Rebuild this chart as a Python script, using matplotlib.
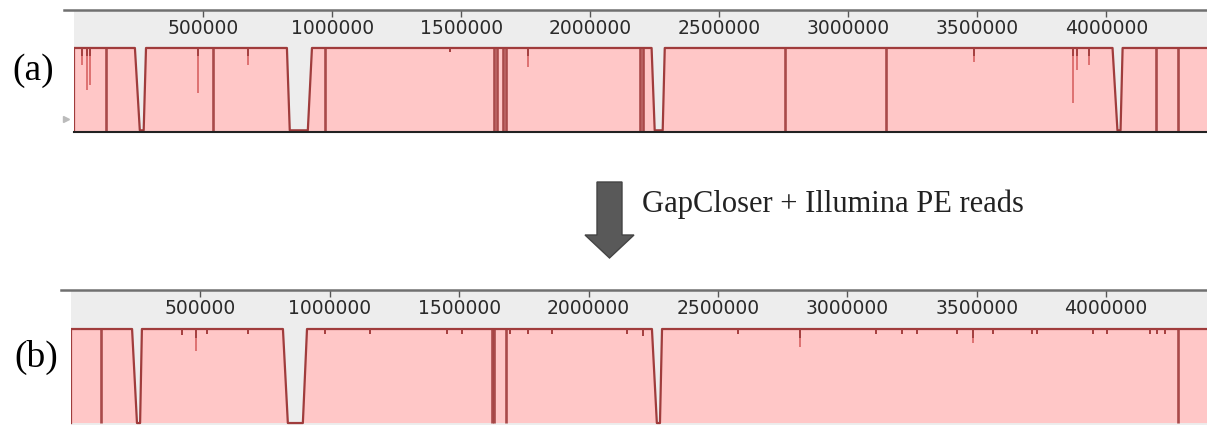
"""
Coverage profile of the draft assembly before (a) and after (b) gap closing
"""

from matplotlib import pyplot as plt
from matplotlib.patches import FancyArrow

# Axis ticks (genome position, bp)
ticks = [500000, 1000000, 1500000, 2000000, 2500000, 3000000, 3500000, 4000000]
tick_labels = [str(t) for t in ticks]
genome_end = 4390000

# Panel (a): outline of the profile (position, relative coverage)
a_pos = [0, 0, 236000, 255000, 270000, 279000, 825000, 836000, 906000, 922000,
         2238000, 2250000, 2281000, 2289000, 4024000, 4043000, 4055000, 4063000,
         genome_end]
a_cov = [0, 1, 1, 0.02, 0.02, 1, 1, 0.02, 0.02, 1,
         1, 0.02, 0.02, 1, 1, 0.02, 0.02, 1,
         1]
# Panel (a): narrow drops (position, lowest coverage)
a_drop_pos = [31000, 50000, 62000, 124000, 480000, 538000, 674000, 972000,
              1456000, 1627000, 1638000, 1661000, 1673000, 1758000, 2192000,
              2204000, 2754000, 3145000, 3486000, 3869000, 3888000, 3931000,
              4194000, 4276000]
a_drop_cov = [0.8, 0.5, 0.56, 0.0, 0.46, 0.0, 0.8, 0.0,
              0.95, 0.0, 0.0, 0.0, 0.0, 0.77, 0.0,
              0.0, 0.0, 0.0, 0.83, 0.35, 0.74, 0.8,
              0.0, 0.0]

# Panel (b)
b_pos = [0, 0, 236000, 255000, 267000, 274000, 819000, 838000, 896000, 912000,
         2245000, 2264000, 2276000, 2284000, genome_end]
b_cov = [0, 1, 1, 0.0, 0.0, 1, 1, 0.0, 0.0, 1,
         1, 0.0, 0.0, 1, 1]
b_drop_pos = [116000, 429000, 483000, 525000, 684000, 981000, 1155000, 1453000,
              1511000, 1627000, 1634000, 1681000, 1696000, 1766000, 1859000,
              2148000, 2210000, 2577000, 2817000, 3110000, 3211000, 3269000,
              3423000, 3485000, 3563000, 3713000, 3733000, 3949000, 4003000,
              4169000, 4196000, 4227000, 4277000]
b_drop_cov = [0.0, 0.94, 0.77, 0.95, 0.95, 0.95, 0.95, 0.95,
              0.95, 0.0, 0.0, 0.0, 0.95, 0.95, 0.95,
              0.95, 0.93, 0.95, 0.81, 0.95, 0.95, 0.95,
              0.95, 0.85, 0.95, 0.95, 0.95, 0.95, 0.95,
              0.95, 0.95, 0.95, 0.0]

W, H = 1207, 425
fill_color = '#ffc7c7'
line_color = '#a03c3c'
band_color = '#ededed'

fig = plt.figure(figsize=(W / 100, H / 100), dpi=100)


def px_axes(left, top, right, bottom):
    return fig.add_axes([left / W, 1 - bottom / H, (right - left) / W, (bottom - top) / H])


def draw_profile(ax, pos, cov, drop_pos, drop_cov, ylim):
    ax.set_facecolor(band_color)
    ax.fill_between(pos, cov, 0, facecolor=fill_color, linewidth=0)
    ax.plot(pos, cov, color=line_color, linewidth=1.6)
    for p, c in zip(drop_pos, drop_cov):
        if c < 0.1:
            ax.vlines(p, c, 1, color=line_color, linewidth=1.9, alpha=0.9)
        else:
            ax.vlines(p, c, 1, color='#d45a5a', linewidth=1.1)
            ax.vlines(p, max(c, 0.9), 1, color=line_color, linewidth=1.3)
    ax.set_xlim(0, genome_end)
    ax.set_ylim(*ylim)
    ax.set_yticks([])
    ax.set_xticks(ticks, labels=tick_labels)
    ax.tick_params(axis='x', top=True, bottom=False, labeltop=True, labelbottom=False,
                   direction='in', length=5, width=1, color='#555555', pad=-20.5,
                   labelsize=13.5, labelcolor='#2a2a2a')
    for side in ['left', 'right', 'top']:
        ax.spines[side].set_visible(False)
    # top frame line, a little longer than the plot
    ax.plot([-0.009, 1], [1, 1], transform=ax.transAxes, clip_on=False,
            color='#707070', linewidth=1.8)


# (a) before gap closing
ax_a = px_axes(74, 10, W, 132)
draw_profile(ax_a, a_pos, a_cov, a_drop_pos, a_drop_cov, (0, 1.452))
ax_a.spines['bottom'].set_color('#222222')
ax_a.spines['bottom'].set_linewidth(1.5)
ax_a.plot([-0.007], [0.11], marker='>', markersize=4, color='#bbbbbb',
          transform=ax_a.transAxes, clip_on=False)

# (b) after gap closing
ax_b = px_axes(71, 290, W, H)
draw_profile(ax_b, b_pos, b_cov, b_drop_pos, b_drop_cov, (-0.021, 1.415))
ax_b.spines['bottom'].set_visible(False)

# Overlay in pixel units for labels and arrow
ov = fig.add_axes([0, 0, 1, 1], zorder=-1)
ov.set_xlim(0, W)
ov.set_ylim(H, 0)
ov.axis('off')
serif = ['Liberation Serif', 'DejaVu Serif']
ov.text(33.5, 71, '(a)', fontsize=27, family=serif, ha='center', va='center')
ov.text(36, 357, '(b)', fontsize=27, family=serif, ha='center', va='center')
ov.add_patch(FancyArrow(609.5, 182, 0, 76, width=25, head_width=49, head_length=23,
                        length_includes_head=True, facecolor='#595959',
                        edgecolor='#444444', linewidth=1))
ov.text(642, 204, 'GapCloser + Illumina PE reads', fontsize=22, family=serif,
        ha='left', va='center', color='#222222')

plt.savefig('out.png', dpi=100)
